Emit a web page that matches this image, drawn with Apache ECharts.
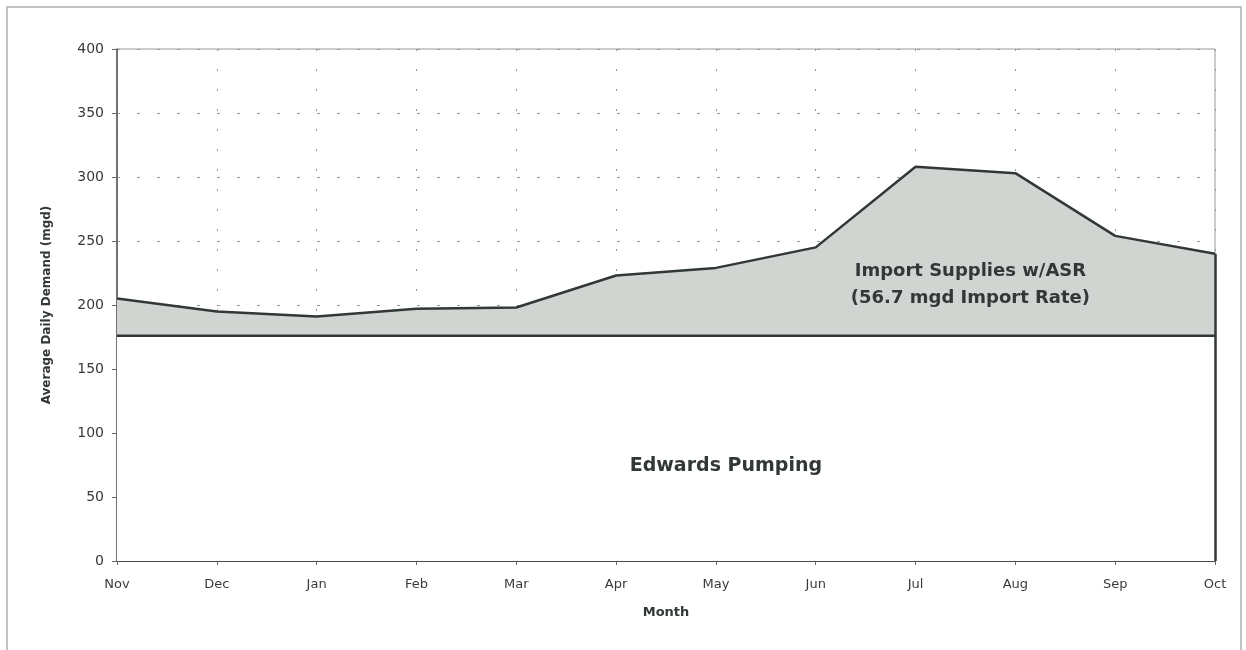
<!DOCTYPE html>
<html>
<head>
<meta charset="utf-8">
<script src="https://cdn.jsdelivr.net/npm/echarts@6/dist/echarts.min.js"></script>
<style>
html,body{margin:0;padding:0;background:#fff;}
#c{width:1246px;height:650px;}
</style>
</head>
<body>
<div id="c"></div>
<script>
const months = ['Nov','Dec','Jan','Feb','Mar','Apr','May','Jun','Jul','Aug','Sep','Oct'];
const totalDemand = [205, 195, 191, 197, 198, 223, 229, 245, 308, 303, 254, 240];
const edwardsPumping = [176, 176, 176, 176, 176, 176, 176, 176, 176, 176, 176, 176];
const importSupplies = totalDemand.map((v, i) => v - edwardsPumping[i]);
const yTicks = [0, 50, 100, 150, 200, 250, 300, 350, 400];

const font = '"DejaVu Sans", "Liberation Sans", Arial, sans-serif';
const dark = '#313836';
const chart = echarts.init(document.getElementById('c'));
const last = months.length - 1;

chart.setOption({
  animation: false,
  backgroundColor: '#fff',
  grid: {left: 117, right: 31, top: 49, bottom: 89, show: true, borderColor: '#9a9a9a', borderWidth: 1, backgroundColor: 'transparent'},
  xAxis: {
    type: 'category', data: months, boundaryGap: false,
    name: 'Month', nameLocation: 'middle', nameGap: 45,
    nameTextStyle: {fontFamily: font, fontWeight: 'bold', fontSize: 13, color: dark},
    axisLine: {lineStyle: {color: '#4a4a4a', width: 2}},
    axisTick: {show: true, length: 4, inside: false, lineStyle: {color: '#666'}},
    axisLabel: {fontFamily: font, fontSize: 13, color: '#3a3a3a', margin: 17},
    splitLine: {show: true, lineStyle: {color: '#999', type: [2, 18], width: 1}}
  },
  yAxis: {
    type: 'value', min: yTicks[0], max: yTicks[yTicks.length - 1], interval: 50,
    name: 'Average Daily Demand (mgd)', nameLocation: 'middle', nameGap: 64,
    nameTextStyle: {fontFamily: font, fontWeight: 'bold', fontSize: 12, color: dark},
    axisLine: {show: true, lineStyle: {color: '#555', width: 1.5}},
    axisTick: {show: true, length: 5, lineStyle: {color: '#666'}},
    axisLabel: {fontFamily: font, fontSize: 14, color: '#3a3a3a', margin: 13},
    splitLine: {show: true, lineStyle: {color: '#999', type: [3, 17], width: 1}}
  },
  series: [
    {
      name: 'Edwards Pumping', type: 'line', stack: 'd', data: edwardsPumping,
      symbol: 'none', lineStyle: {color: dark, width: 2.5},
      areaStyle: {color: '#ffffff', opacity: 1}, z: 3,
      markLine: {
        symbol: 'none', silent: true, label: {show: false},
        lineStyle: {color: dark, width: 2.5, type: 'solid'},
        data: [[{coord: [last, 0]}, {coord: [last, totalDemand[last]]}]]
      }
    },
    {
      name: 'Import Supplies', type: 'line', stack: 'd', data: importSupplies,
      symbol: 'none', lineStyle: {color: dark, width: 2.5},
      areaStyle: {color: '#d2d4d2', opacity: 1}, z: 2
    }
  ]
});

function px(cat, val) { return chart.convertToPixel({gridIndex: 0}, [cat, val]); }
const pJul = px(8, 200), pAug = px(9, 200);
const impX = pJul[0] + (pAug[0] - pJul[0]) * 0.55;
const pEd = px(6, 74);
const pL1 = px(8, 226), pL2 = px(8, 205);
chart.setOption({
  graphic: [
    {type: 'polyline', silent: true, shape: {points: [[7, 650], [7, 7], [1241, 7], [1241, 650]]}, style: {stroke: '#b0b0b0', fill: null, lineWidth: 1.5}},
    {type: 'text', x: impX, y: pL1[1], style: {text: 'Import Supplies w/ASR', font: 'bold 18px ' + font, fill: dark, align: 'center', verticalAlign: 'middle'}, z: 10},
    {type: 'text', x: impX, y: pL2[1], style: {text: '(56.7 mgd Import Rate)', font: 'bold 18px ' + font, fill: dark, align: 'center', verticalAlign: 'middle'}, z: 10},
    {type: 'text', x: pEd[0] + 10, y: pEd[1], style: {text: 'Edwards Pumping', font: 'bold 19px ' + font, fill: dark, align: 'center', verticalAlign: 'middle'}, z: 10}
  ]
});
</script>
</body>
</html>
